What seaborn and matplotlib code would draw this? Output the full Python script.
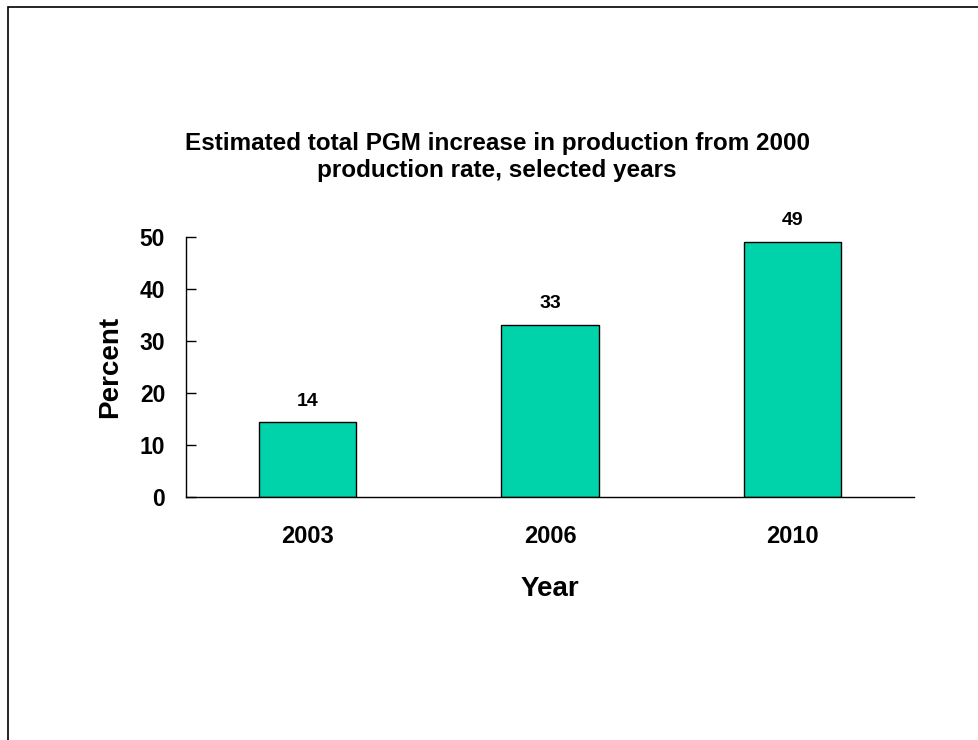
"""
Bar chart of estimated PGM production increase over the 2000 rate.
"""

import matplotlib.pyplot as plt
import pandas as pd
import seaborn as sns
from matplotlib.patches import Rectangle

sns.set_style("white")
plt.rcParams["font.family"] = ["Liberation Sans", "DejaVu Sans"]
plt.rcParams["font.weight"] = "bold"
plt.rcParams["text.color"] = "black"
plt.rcParams["axes.labelcolor"] = "black"
plt.rcParams["xtick.color"] = "black"
plt.rcParams["ytick.color"] = "black"

# Data
years = ["2003", "2006", "2010"]
percent = [14.4, 33.1, 49.1]
bar_labels = ["14", "33", "49"]
y_ticks = [0, 10, 20, 30, 40, 50]

df = pd.DataFrame({"Year": years, "Percent": percent})

fig = plt.figure(figsize=(9.79, 7.40), dpi=100)
ax = fig.add_axes([0.190, 0.3284, 0.7436, 0.3513])

sns.barplot(
    data=df,
    x="Year",
    y="Percent",
    color="#00D3AA",
    saturation=1,
    width=0.4,
    edgecolor="black",
    linewidth=1,
    ax=ax,
)
ax.bar_label(ax.containers[0], labels=bar_labels, padding=9,
             fontsize=14, fontweight="bold", color="black")

ax.set_xlim(-0.5, 2.5)
ax.set_ylim(0, 50)
ax.set_yticks(y_ticks)
ax.tick_params(axis="y", left=True, direction="in", length=7, width=1,
               pad=15, labelsize=16.5, color="black", labelcolor="black")
ax.tick_params(axis="x", bottom=False, length=0, pad=20, labelsize=17,
               labelcolor="black")
for lab in ax.get_xticklabels() + ax.get_yticklabels():
    lab.set_fontweight("bold")

ax.set_xlabel("Year", fontsize=20, fontweight="bold", labelpad=20)
ax.set_ylabel("Percent", fontsize=20, fontweight="bold", labelpad=12)

sns.despine(ax=ax)
for side in ("left", "bottom"):
    ax.spines[side].set_color("black")
    ax.spines[side].set_linewidth(1)

fig.text(
    0.5077, 0.788,
    "Estimated total PGM increase in production from 2000\n"
    "production rate, selected years",
    ha="center", va="center", fontsize=17.5, fontweight="bold",
    linespacing=1.25, color="black",
)

# frame around the slide (only top and left edges fall inside the image)
fig.add_artist(Rectangle((8 / 979, -0.1), 1.2, 1.1 - 7 / 740,
                         transform=fig.transFigure, fill=False,
                         edgecolor="black", linewidth=1.2))

fig.savefig("out.png", dpi=100)
plt.close(fig)
